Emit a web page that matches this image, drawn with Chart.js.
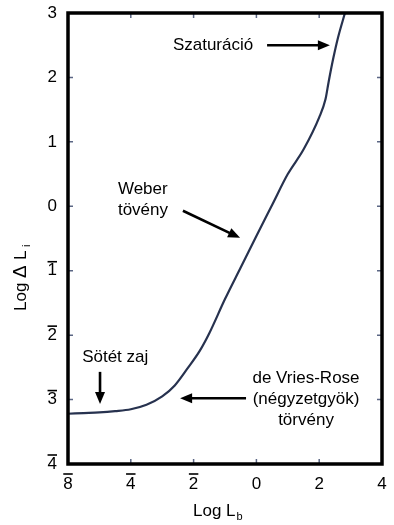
<!DOCTYPE html>
<html>
<head>
<meta charset="utf-8">
<script src="https://cdn.jsdelivr.net/npm/chart.js@4.4.1/dist/chart.umd.min.js"></script>
<style>
html,body{margin:0;padding:0;background:#fff;}
#wrap{width:394px;height:525px;position:relative;}
</style>
</head>
<body>
<div id="wrap"><canvas id="c" width="394" height="525"></canvas></div>
<script>
// Curve: Log L_b (x) vs Log ΔL_i (y)
const logLb = [-6, -5.5, -5, -4.5, -4, -3.5, -3, -2.6, -2.2, -1.8, -1.5, -1.0, -0.5, 0, 0.5, 1.0, 1.5, 2.0, 2.2, 2.3, 2.45, 2.6, 2.82];
const logDeltaLi = [-3.22, -3.21, -3.2, -3.18, -3.15, -3.08, -2.95, -2.78, -2.52, -2.24, -1.97, -1.44, -0.95, -0.46, 0.02, 0.5, 0.88, 1.38, 1.66, 1.93, 2.3, 2.62, 3.0];

// Tick values and their printed labels (negatives shown with overbar)
const xTickValues = [-6, -4, -2, 0, 2, 4];
const xTickText = ['8', '4', '2', '0', '2', '4'];
const yTickValues = [-4, -3, -2, -1, 0, 1, 2, 3];
const yTickText = ['4', '3', '2', '1', '0', '1', '2', '3'];

// Inner tick marks
const xInnerTicks = [-4, -2, 0, 2];
const yInnerTicks = [-3, -2, -1, 0, 1, 2];

// Annotation labels (data coordinates)
const labelTexts = ['Szaturáció', 'Weber', 'tövény', 'Sötét zaj', 'de Vries-Rose', '(négyzetgyök)', 'törvény'];
const labelX = [-2.66, -4.41, -4.41, -5.55, 1.58, 1.58, 1.58];
const labelY = [2.5, 0.27, -0.07, -2.35, -2.665, -2.99, -3.32];
const labelAlign = ['left', 'left', 'left', 'left', 'center', 'center', 'center'];

// Arrows: from (x,y) to (x,y) in data coordinates
const arrowFromX = [0.34, -2.34, -4.98, -0.33];
const arrowFromY = [2.5, -0.07, -2.57, -2.98];
const arrowToX = [2.34, -0.52, -4.98, -2.43];
const arrowToY = [2.5, -0.49, -3.07, -2.98];

const FONT = '"Liberation Sans", Arial, Helvetica, sans-serif';

const decor = {
  id: 'decor',
  afterDraw(chart) {
    const ctx = chart.ctx;
    const a = chart.chartArea;
    const xs = chart.scales.x, ys = chart.scales.y;
    ctx.save();
    // inner ticks
    ctx.strokeStyle = '#5b6684';
    ctx.lineWidth = 1.5;
    const tl = 5;
    xInnerTicks.forEach(v => {
      const px = xs.getPixelForValue(v);
      ctx.beginPath();
      ctx.moveTo(px, a.bottom); ctx.lineTo(px, a.bottom - tl);
      ctx.moveTo(px, a.top); ctx.lineTo(px, a.top + tl);
      ctx.stroke();
    });
    yInnerTicks.forEach(v => {
      const py = ys.getPixelForValue(v);
      ctx.beginPath();
      ctx.moveTo(a.left, py); ctx.lineTo(a.left + tl, py);
      ctx.moveTo(a.right, py); ctx.lineTo(a.right - tl, py);
      ctx.stroke();
    });
    // frame
    ctx.strokeStyle = '#000';
    ctx.lineWidth = 3.5;
    ctx.strokeRect(a.left, a.top, a.right - a.left, a.bottom - a.top);

    // overbars on negative tick labels
    ctx.font = '17px ' + FONT;
    ctx.lineWidth = 1.6;
    ctx.strokeStyle = '#000';
    xTickValues.forEach((v, i) => {
      if (v < 0) {
        const px = xs.getPixelForValue(v);
        const w = ctx.measureText(xTickText[i]).width;
        const by = a.bottom + 10;
        ctx.beginPath();
        ctx.moveTo(px - w / 2, by); ctx.lineTo(px + w / 2, by);
        ctx.stroke();
      }
    });
    yTickValues.forEach((v, i) => {
      if (v < 0) {
        const py = ys.getPixelForValue(v);
        const w = ctx.measureText(yTickText[i]).width;
        const rx = a.left - 11;
        const by = py - 9;
        ctx.beginPath();
        ctx.moveTo(rx - w, by); ctx.lineTo(rx, by);
        ctx.stroke();
      }
    });

    // annotation labels
    ctx.fillStyle = '#000';
    ctx.font = '17px ' + FONT;
    ctx.textBaseline = 'middle';
    labelTexts.forEach((t, i) => {
      ctx.textAlign = labelAlign[i];
      ctx.fillText(t, xs.getPixelForValue(labelX[i]), ys.getPixelForValue(labelY[i]));
    });

    // arrows
    ctx.strokeStyle = '#000';
    ctx.fillStyle = '#000';
    ctx.lineWidth = 2.6;
    arrowFromX.forEach((fx, i) => {
      const x0 = xs.getPixelForValue(fx), y0 = ys.getPixelForValue(arrowFromY[i]);
      const x1 = xs.getPixelForValue(arrowToX[i]), y1 = ys.getPixelForValue(arrowToY[i]);
      const ang = Math.atan2(y1 - y0, x1 - x0);
      const hl = 12, hw = 5;
      const bx = x1 - hl * Math.cos(ang), by = y1 - hl * Math.sin(ang);
      ctx.beginPath();
      ctx.moveTo(x0, y0); ctx.lineTo(bx + 2 * Math.cos(ang), by + 2 * Math.sin(ang));
      ctx.stroke();
      ctx.beginPath();
      ctx.moveTo(x1, y1);
      ctx.lineTo(bx - hw * Math.sin(ang), by + hw * Math.cos(ang));
      ctx.lineTo(bx + hw * Math.sin(ang), by - hw * Math.cos(ang));
      ctx.closePath();
      ctx.fill();
    });

    // axis titles with subscripts
    ctx.textAlign = 'left';
    ctx.textBaseline = 'alphabetic';
    ctx.font = '17px ' + FONT;
    const xt = 'Log L';
    const xtw = ctx.measureText(xt).width;
    const xtx = 193;
    const xty = 516;
    ctx.fillText(xt, xtx, xty);
    ctx.font = '11px ' + FONT;
    ctx.fillText('b', xtx + xtw + 1, xty + 4);

    ctx.save();
    ctx.translate(26, 311);
    ctx.rotate(-Math.PI / 2);
    ctx.font = '17px ' + FONT;
    ctx.fillText('Log', 0, 0);
    ctx.font = '19px ' + FONT;
    ctx.fillText('Δ', 33, 0);
    ctx.font = '17px ' + FONT;
    ctx.fillText('L', 51, 0);
    ctx.font = '11px ' + FONT;
    ctx.fillText('i', 64, 4);
    ctx.restore();

    ctx.restore();
  }
};

new Chart(document.getElementById('c'), {
  type: 'scatter',
  data: {
    datasets: [{
      data: logLb.map((x, i) => ({x: x, y: logDeltaLi[i]})),
      showLine: true,
      borderColor: '#27324f',
      borderWidth: 2.2,
      pointRadius: 0,
      cubicInterpolationMode: 'monotone',
      fill: false
    }]
  },
  options: {
    responsive: false,
    animation: false,
    layout: {padding: {top: 13, right: 12, left: 0, bottom: 0}},
    plugins: {legend: {display: false}, tooltip: {enabled: false}},
    scales: {
      x: {
        type: 'linear', min: -6, max: 4,
        afterBuildTicks: s => { s.ticks = xTickValues.map(v => ({value: v})); },
        afterFit: s => { s.height = 61; s.paddingLeft = 0; s.paddingRight = 0; },
        grid: {display: false, drawTicks: false},
        border: {display: false},
        ticks: {
          padding: 10, color: '#000', maxRotation: 0, autoSkip: false,
          font: {family: FONT, size: 17},
          callback: (v, i) => xTickText[i]
        }
      },
      y: {
        type: 'linear', min: -4, max: 3,
        afterBuildTicks: s => { s.ticks = yTickValues.map(v => ({value: v})); },
        afterFit: s => { s.width = 68; s.paddingTop = 0; s.paddingBottom = 0; },
        grid: {display: false, drawTicks: false},
        border: {display: false},
        ticks: {
          padding: 11, color: '#000', autoSkip: false,
          font: {family: FONT, size: 17},
          callback: (v, i) => yTickText[i]
        }
      }
    }
  },
  plugins: [decor]
});
</script>
</body>
</html>
